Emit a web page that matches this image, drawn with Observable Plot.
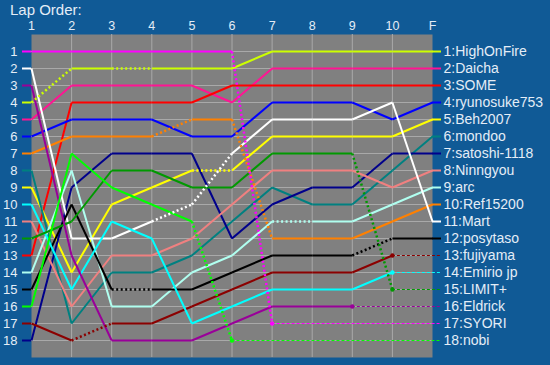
<!DOCTYPE html>
<html>
<head>
<meta charset="utf-8">
<script src="https://cdn.jsdelivr.net/npm/d3@7"></script>
<script src="https://cdn.jsdelivr.net/npm/@observablehq/plot@0.6"></script>
<style>
  html, body { margin: 0; padding: 0; background: #105a96; width: 550px; height: 365px; overflow: hidden; }
  #wrap { position: relative; width: 550px; height: 365px; }
  #title { position: absolute; left: 10px; top: 1px; color: #e4edf7; font: 15px "Liberation Sans", Arial, sans-serif; }
  #chart { position: absolute; left: 0; top: 0; }
  g[aria-label^="x-axis"] text { font-size: 12.5px; }
  g[aria-label^="y-axis"] text { font-size: 13px; }
</style>
</head>
<body>
<div id="wrap">
  <div id="chart"></div>
  <div id="title">Lap Order:</div>
</div>
<script>
// Lap labels (laps 1..10 and Final)
const lapLabels = ["1", "2", "3", "4", "5", "6", "7", "8", "9", "10", "F"];
const positionTicks = [1, 2, 3, 4, 5, 6, 7, 8, 9, 10, 11, 12, 13, 14, 15, 16, 17, 18];

// Drivers in final classification order
const drivers = ["HighOnFire", "Daicha", "SOME", "ryunosuke753", "Beh2007", "mondoo",
  "satoshi-1118", "Ninngyou", "arc", "Ref15200", "Mart", "posytaso", "fujiyama",
  "Emirio jp", "LIMIT+", "Eldrick", "SYORI", "nobi"];

const colors = ["#ccff00", "#ff1493", "#ff0000", "#0000ff", "#ffff00", "#008080",
  "#00008b", "#f08080", "#b0fff0", "#ff8000", "#ffffff", "#000000", "#8b0000",
  "#00ffff", "#009900", "#990099", "#ff00ff", "#00ff00"];

// Position after each lap (1..10, F); shorter arrays = retired
const positions = [
  [4, 2, 2, 2, 2, 2, 1, 1, 1, 1, 1],
  [5, 3, 3, 3, 3, 4, 2, 2, 2, 2, 2],
  [13, 4, 4, 4, 4, 3, 3, 3, 3, 3, 3],
  [6, 5, 5, 5, 6, 6, 4, 4, 4, 5, 4],
  [9, 14, 10, 9, 8, 8, 6, 6, 6, 6, 5],
  [8, 17, 14, 14, 13, 11, 9, 10, 10, 8, 6],
  [18, 9, 7, 7, 7, 12, 10, 9, 9, 7, 7],
  [11, 16, 13, 13, 12, 10, 8, 8, 8, 9, 8],
  [14, 8, 16, 16, 14, 13, 11, 11, 11, 10, 9],
  [7, 6, 6, 6, 5, 5, 12, 12, 12, 11, 10],
  [2, 12, 12, 11, 10, 7, 5, 5, 5, 4, 11],
  [15, 10, 15, 15, 15, 14, 13, 13, 13, 12, 12],
  [17, 18, 17, 17, 16, 15, 14, 14, 14, 13],
  [10, 15, 11, 12, 17, 16, 15, 15, 15, 14],
  [12, 11, 8, 8, 9, 9, 7, 7, 7, 15],
  [3, 13, 18, 18, 18, 17, 16, 16, 16],
  [1, 1, 1, 1, 1, 1, 17],
  [16, 7, 9, 10, 11, 18]
];

// Laps whose following segment is drawn dotted (pit stops / drops)
const dottedFrom = [
  [1, 3], [], [], [], [5], [], [], [], [7], [4, 6], [4, 5], [3, 9], [2], [], [9], [], [6], [5]
];

// ---- build tables for the marks ----
const lastLap = lapLabels.length;
const segments = [];
const starts = [];
const ends = [];
drivers.forEach((name, i) => {
  const p = positions[i];
  starts.push({pos: p[0], color: colors[i]});
  for (let j = 0; j < p.length - 1; j++) {
    segments.push({x1: j + 1, y1: p[j], x2: j + 2, y2: p[j + 1], color: colors[i], dotted: dottedFrom[i].includes(j + 1)});
  }
  ends.push({rank: i + 1, label: `${i + 1}:${name}`, lap: p.length, pos: p[p.length - 1], color: colors[i], retired: p.length < lastLap});
});
const gridLaps = d3.range(2, lastLap);

const chart = Plot.plot({
  width: 550,
  height: 365,
  marginLeft: 31,
  marginRight: 118,
  marginTop: 34,
  marginBottom: 8,
  style: {background: "transparent", color: "#e4edf7", fontFamily: "'Liberation Sans', Arial, sans-serif", fontSize: "13px", overflow: "visible"},
  x: {domain: [1, lastLap], axis: "top", ticks: d3.range(1, lastLap + 1), tickFormat: d => lapLabels[d - 1], tickSize: 0, tickPadding: 5, label: null},
  y: {domain: [0, 19], reverse: true, ticks: positionTicks, tickSize: 0, tickPadding: 14, label: null},
  marks: [
    Plot.frame({fill: "#808080", stroke: "none"}),
    Plot.ruleX(gridLaps, {stroke: "#a9a9a9", strokeWidth: 1}),
    Plot.ruleY(positionTicks, {stroke: "#a9a9a9", strokeWidth: 1}),
    // start stubs
    Plot.ruleY(starts, {y: "pos", x1: () => 1, x2: () => 1, insetLeft: -9, stroke: "color", strokeWidth: 2}),
    // finish stubs and retired dashes
    Plot.ruleY(ends.filter(d => !d.retired), {y: "pos", x1: () => lastLap, x2: () => lastLap, insetRight: -9, stroke: "color", strokeWidth: 2}),
    Plot.ruleY(ends.filter(d => d.retired), {y: "pos", x1: "lap", x2: () => lastLap, insetRight: -9, stroke: "color", strokeWidth: 1, strokeDasharray: "3,2"}),
    // race lines
    Plot.link(segments.filter(d => !d.dotted), {x1: "x1", y1: "y1", x2: "x2", y2: "y2", stroke: "color", strokeWidth: 2}),
    Plot.link(segments.filter(d => d.dotted), {x1: "x1", y1: "y1", x2: "x2", y2: "y2", stroke: "color", strokeWidth: 2.5, strokeDasharray: "2,2.5"}),
    Plot.dot(ends.filter(d => d.retired), {x: "lap", y: "pos", r: 2.2, fill: "color", stroke: "none"}),
    // right labels
    Plot.text(ends, {x: () => lastLap, y: "rank", text: "label", textAnchor: "start", dx: 11, fontSize: 14, fill: "#e4edf7"})
  ]
});
document.getElementById("chart").appendChild(chart);
</script>
</body>
</html>
